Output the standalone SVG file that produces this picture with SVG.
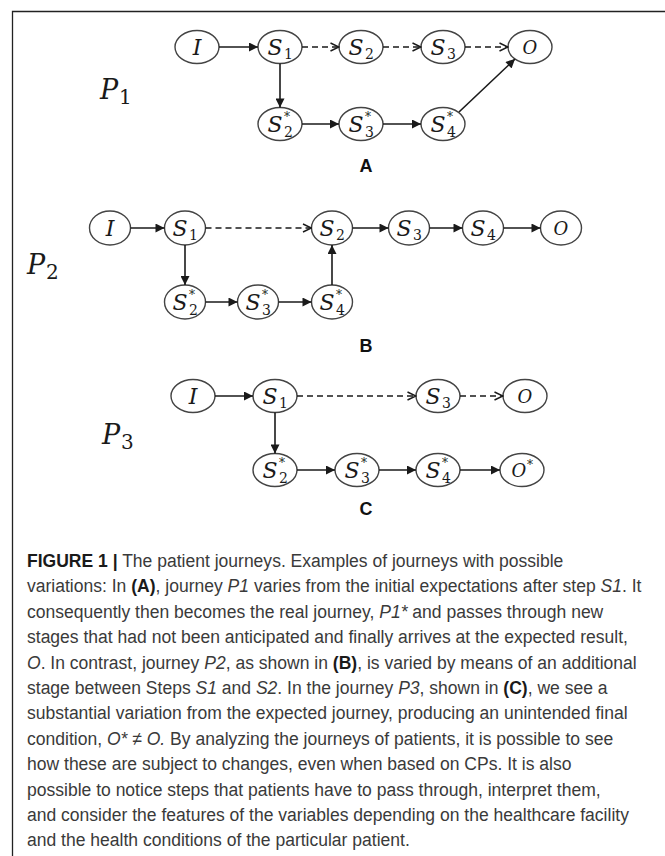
<svg xmlns="http://www.w3.org/2000/svg" width="665" height="856" viewBox="0 0 665 856">
<style>
.n{fill:#fff;stroke:#444;stroke-width:1.4}
.m{font-family:"DejaVu Serif","Liberation Serif",serif;font-style:italic;font-size:22px;fill:#1a1a1a}
.o{font-family:"DejaVu Serif","Liberation Serif",serif;font-style:italic;font-size:18px;fill:#1a1a1a}
.d{font-family:"DejaVu Serif","Liberation Serif",serif;font-size:14px;fill:#1a1a1a}
.st{font-family:"DejaVu Serif","Liberation Serif",serif;font-size:12px;fill:#1a1a1a}
.P{font-family:"DejaVu Serif","Liberation Serif",serif;font-style:italic;font-size:27px;fill:#1a1a1a}
.Pd{font-family:"DejaVu Serif","Liberation Serif",serif;font-size:20px;fill:#1a1a1a}
.lab{font-family:"Liberation Sans",Arial,sans-serif;font-weight:bold;font-size:18px;fill:#111;text-anchor:middle}
.s{fill:none;stroke:#1a1a1a;stroke-width:1.6;marker-end:url(#af)}
.ds{fill:none;stroke:#1a1a1a;stroke-width:1.4;stroke-dasharray:6 4;marker-end:url(#ao)}
.cap{font-family:"Liberation Sans",Arial,sans-serif;font-size:19px;fill:#3a3a3a}
.b{font-weight:bold;fill:#1a1a1a}
.i{font-style:italic}
</style>
<defs>
<marker id="af" viewBox="0 0 10 10" refX="10" refY="5" markerWidth="10" markerHeight="9" markerUnits="userSpaceOnUse" orient="auto"><path d="M0,0 L10,5 L0,10 z" fill="#1a1a1a"/></marker>
<marker id="ao" viewBox="0 0 10 10" refX="9.5" refY="5" markerWidth="10" markerHeight="10" markerUnits="userSpaceOnUse" orient="auto"><path d="M1,1 L9.5,5 L1,9" fill="none" stroke="#1a1a1a" stroke-width="1.5"/></marker>
</defs>
<rect width="665" height="856" fill="#fff"/>
<path d="M12.5,856 V11.5 H665" fill="none" stroke="#222" stroke-width="1.3"/>

<!-- Panel A -->
<g id="P1"><text class="P" x="100" y="99">P</text><text class="Pd" x="119" y="104">1</text></g>
<g id="A_I"><ellipse class="n" cx="197" cy="47" rx="22" ry="16.5"/><text class="m" x="197" y="55" text-anchor="middle">I</text></g>
<g id="A_S1"><ellipse class="n" cx="280" cy="47" rx="22" ry="16.5"/><text class="m" x="275" y="55" text-anchor="middle">S</text><text class="d" x="284" y="59">1</text></g>
<g id="A_S2"><ellipse class="n" cx="361" cy="47" rx="22" ry="16.5"/><text class="m" x="356" y="55" text-anchor="middle">S</text><text class="d" x="365" y="59">2</text></g>
<g id="A_S3"><ellipse class="n" cx="443" cy="47" rx="22" ry="16.5"/><text class="m" x="438" y="55" text-anchor="middle">S</text><text class="d" x="447" y="59">3</text></g>
<g id="A_O"><ellipse class="n" cx="530" cy="47" rx="22" ry="16.5"/><text class="o" x="530" y="53.5" text-anchor="middle">O</text></g>
<g id="A_S2s"><ellipse class="n" cx="280" cy="124" rx="22" ry="16.5"/><text class="m" x="275" y="132" text-anchor="middle">S</text><text class="st" x="284" y="121">*</text><text class="d" x="284" y="137">2</text></g>
<g id="A_S3s"><ellipse class="n" cx="361" cy="124" rx="22" ry="16.5"/><text class="m" x="356" y="132" text-anchor="middle">S</text><text class="st" x="365" y="121">*</text><text class="d" x="365" y="137">3</text></g>
<g id="A_S4s"><ellipse class="n" cx="443" cy="124" rx="22" ry="16.5"/><text class="m" x="438" y="132" text-anchor="middle">S</text><text class="st" x="447" y="121">*</text><text class="d" x="447" y="137">4</text></g>
<text class="lab" x="366" y="172">A</text>

<!-- Panel B -->
<g id="P2"><text class="P" x="27" y="274">P</text><text class="Pd" x="46" y="279">2</text></g>
<g id="B_I"><ellipse class="n" cx="110" cy="228" rx="20.5" ry="17"/><text class="m" x="110" y="236" text-anchor="middle">I</text></g>
<g id="B_S1"><ellipse class="n" cx="185" cy="228" rx="20.5" ry="17"/><text class="m" x="180" y="236" text-anchor="middle">S</text><text class="d" x="189" y="240">1</text></g>
<g id="B_S2"><ellipse class="n" cx="332" cy="228" rx="20.5" ry="17"/><text class="m" x="327" y="236" text-anchor="middle">S</text><text class="d" x="336" y="240">2</text></g>
<g id="B_S3"><ellipse class="n" cx="409" cy="228" rx="20.5" ry="17"/><text class="m" x="404" y="236" text-anchor="middle">S</text><text class="d" x="413" y="240">3</text></g>
<g id="B_S4"><ellipse class="n" cx="483" cy="228" rx="20.5" ry="17"/><text class="m" x="478" y="236" text-anchor="middle">S</text><text class="d" x="487" y="240">4</text></g>
<g id="B_O"><ellipse class="n" cx="561" cy="228" rx="20.5" ry="17"/><text class="o" x="561" y="234.5" text-anchor="middle">O</text></g>
<g id="B_S2s"><ellipse class="n" cx="185" cy="302" rx="20.5" ry="17"/><text class="m" x="180" y="310" text-anchor="middle">S</text><text class="st" x="189" y="299">*</text><text class="d" x="189" y="315">2</text></g>
<g id="B_S3s"><ellipse class="n" cx="258" cy="302" rx="20.5" ry="17"/><text class="m" x="253" y="310" text-anchor="middle">S</text><text class="st" x="262" y="299">*</text><text class="d" x="262" y="315">3</text></g>
<g id="B_S4s"><ellipse class="n" cx="332" cy="302" rx="20.5" ry="17"/><text class="m" x="327" y="310" text-anchor="middle">S</text><text class="st" x="336" y="299">*</text><text class="d" x="336" y="315">4</text></g>
<text class="lab" x="366" y="352">B</text>

<!-- Panel C -->
<g id="P3"><text class="P" x="102" y="444">P</text><text class="Pd" x="121" y="449">3</text></g>
<g id="C_I"><ellipse class="n" cx="193" cy="396" rx="22" ry="16.5"/><text class="m" x="193" y="404" text-anchor="middle">I</text></g>
<g id="C_S1"><ellipse class="n" cx="275" cy="396" rx="22" ry="16.5"/><text class="m" x="270" y="404" text-anchor="middle">S</text><text class="d" x="279" y="408">1</text></g>
<g id="C_S3"><ellipse class="n" cx="438" cy="396" rx="22" ry="16.5"/><text class="m" x="433" y="404" text-anchor="middle">S</text><text class="d" x="442" y="408">3</text></g>
<g id="C_O"><ellipse class="n" cx="525" cy="396" rx="22" ry="16.5"/><text class="o" x="525" y="402.5" text-anchor="middle">O</text></g>
<g id="C_S2s"><ellipse class="n" cx="275" cy="470" rx="22" ry="16.5"/><text class="m" x="270" y="478" text-anchor="middle">S</text><text class="st" x="279" y="467">*</text><text class="d" x="279" y="483">2</text></g>
<g id="C_S3s"><ellipse class="n" cx="357" cy="470" rx="22" ry="16.5"/><text class="m" x="352" y="478" text-anchor="middle">S</text><text class="st" x="361" y="467">*</text><text class="d" x="361" y="483">3</text></g>
<g id="C_S4s"><ellipse class="n" cx="438" cy="470" rx="22" ry="16.5"/><text class="m" x="433" y="478" text-anchor="middle">S</text><text class="st" x="442" y="467">*</text><text class="d" x="442" y="483">4</text></g>
<g id="C_Os"><ellipse class="n" cx="522" cy="470" rx="22" ry="16.5"/><text class="o" x="519" y="476.5" text-anchor="middle">O</text><text class="st" x="527" y="469">*</text></g>
<text class="lab" x="366" y="515">C</text>

<g id="connectors">
<line class="s" x1="219" y1="47" x2="258" y2="47"/>
<line class="ds" x1="302" y1="47" x2="339" y2="47"/>
<line class="ds" x1="383" y1="47" x2="421" y2="47"/>
<line class="ds" x1="465" y1="47" x2="508" y2="47"/>
<line class="s" x1="280" y1="63.5" x2="280" y2="107.5"/>
<line class="s" x1="302" y1="124" x2="339" y2="124"/>
<line class="s" x1="383" y1="124" x2="421" y2="124"/>
<line class="s" x1="459" y1="112" x2="515" y2="59"/>

<line class="s" x1="130.5" y1="228" x2="164.5" y2="228"/>
<line class="ds" x1="205.5" y1="228" x2="311.5" y2="228"/>
<line class="s" x1="352.5" y1="228" x2="388.5" y2="228"/>
<line class="s" x1="429.5" y1="228" x2="462.5" y2="228"/>
<line class="s" x1="503.5" y1="228" x2="540.5" y2="228"/>
<line class="s" x1="185" y1="245" x2="185" y2="285"/>
<line class="s" x1="205.5" y1="302" x2="237.5" y2="302"/>
<line class="s" x1="278.5" y1="302" x2="311.5" y2="302"/>
<line class="s" x1="332" y1="285" x2="332" y2="245"/>

<line class="s" x1="215" y1="396" x2="253" y2="396"/>
<line class="ds" x1="297" y1="396" x2="416" y2="396"/>
<line class="ds" x1="460" y1="396" x2="503" y2="396"/>
<line class="s" x1="275" y1="412.5" x2="275" y2="453.5"/>
<line class="s" x1="297" y1="470" x2="335" y2="470"/>
<line class="s" x1="379" y1="470" x2="416" y2="470"/>
<line class="s" x1="460" y1="470" x2="500" y2="470"/>
</g>

<g id="caption" class="cap" transform="translate(27 0) scale(0.923 1)">
<text x="0" y="567"><tspan class="b">FIGURE 1 |</tspan> The patient journeys. Examples of journeys with possible</text>
<text x="0" y="592.4">variations: In <tspan class="b">(A)</tspan>, journey <tspan class="i">P1</tspan> varies from the initial expectations after step <tspan class="i">S1</tspan>. It</text>
<text x="0" y="617.8">consequently then becomes the real journey, <tspan class="i">P1*</tspan> and passes through new</text>
<text x="0" y="643.2">stages that had not been anticipated and finally arrives at the expected result,</text>
<text x="0" y="668.6"><tspan class="i">O</tspan>. In contrast, journey <tspan class="i">P2</tspan>, as shown in <tspan class="b">(B)</tspan>, is varied by means of an additional</text>
<text x="0" y="694">stage between Steps <tspan class="i">S1</tspan> and <tspan class="i">S2</tspan>. In the journey <tspan class="i">P3</tspan>, shown in <tspan class="b">(C)</tspan>, we see a</text>
<text x="0" y="719.4">substantial variation from the expected journey, producing an unintended final</text>
<text x="0" y="744.8">condition, <tspan class="i">O*</tspan> ≠  <tspan class="i">O.</tspan> By analyzing the journeys of patients, it is possible to see</text>
<text x="0" y="770.2">how these are subject to changes, even when based on CPs. It is also</text>
<text x="0" y="795.6">possible to notice steps that patients have to pass through, interpret them,</text>
<text x="0" y="821">and consider the features of the variables depending on the healthcare facility</text>
<text x="0" y="846.4">and the health conditions of the particular patient.</text>
</g>
</svg>
